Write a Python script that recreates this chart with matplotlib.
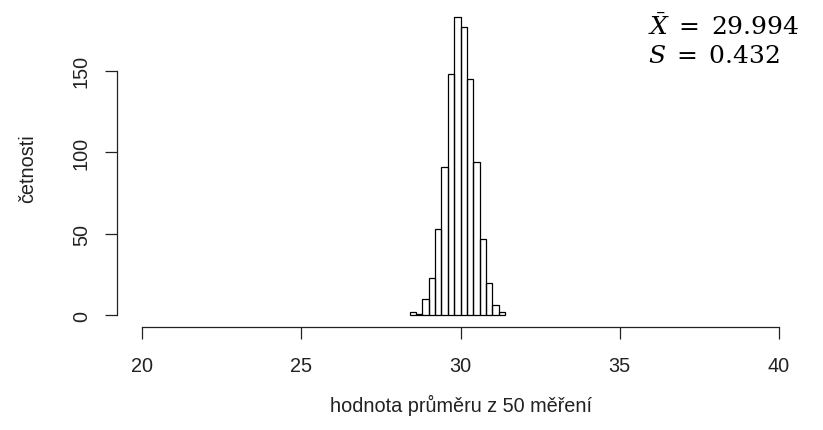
import numpy as np
import matplotlib.pyplot as plt

# histogram of sample means (bin edges 28.4 .. 31.4, width 0.2)
bin_edges = [28.4, 28.6, 28.8, 29.0, 29.2, 29.4, 29.6, 29.8, 30.0,
             30.2, 30.4, 30.6, 30.8, 31.0, 31.2, 31.4]
counts = [2, 1, 10, 23, 53, 91, 148, 183, 177, 145, 94, 47, 20, 6, 2]

x_ticks = [20, 25, 30, 35, 40]
y_ticks = [0, 50, 100, 150]

mean_text = r'$\bar{X}\;=\;29.994$'
sd_text = r'$S\;=\;0.432$'

plt.rcParams['font.family'] = ['Liberation Sans', 'DejaVu Sans']
plt.rcParams['mathtext.fontset'] = 'dejavuserif'

W, H = 823, 431
fig = plt.figure(figsize=(W / 100, H / 100), dpi=100)
ax = fig.add_axes([116.5 / W, 1 - 328.2 / H, (804.5 - 116.5) / W, (328.2 - 5.9) / H])

edges = np.array(bin_edges)
ax.bar(edges[:-1], counts, width=np.diff(edges), align='edge',
       fill=False, edgecolor='black', linewidth=0.9)

ax.set_xlim(19.2, 40.8)
ax.set_ylim(-7.32, 190.3)

# R-style detached axes
ax.spines['top'].set_visible(False)
ax.spines['right'].set_visible(False)
ax.spines['left'].set_bounds(0, 150)
ax.spines['bottom'].set_bounds(20, 40)
for s in ('left', 'bottom'):
    ax.spines[s].set_linewidth(0.9)
    ax.spines[s].set_color('#222222')

ax.set_xticks(x_ticks)
ax.set_yticks(y_ticks)
ax.set_xticklabels([str(v) for v in x_ticks])
ax.set_yticklabels([str(v) for v in y_ticks], rotation=90, va='center')
ax.tick_params(axis='both', length=8.5, width=0.9, color='#222222',
               labelsize=14.3, labelcolor='#222222')
ax.tick_params(axis='x', pad=12)
ax.tick_params(axis='y', pad=10)

fig.text(28 / W, 1 - 169 / H, 'četnosti', rotation=90, ha='center',
         va='center', fontsize=14.3, color='#222222')
fig.text(460.5 / W, 1 - 412 / H, 'hodnota průměru z 50 měření', ha='center',
         va='baseline', fontsize=14.3, color='#222222')

fig.text(648 / W, 1 - 35 / H, mean_text, ha='left', va='baseline',
         fontsize=18, color='black')
fig.text(648 / W, 1 - 63 / H, sd_text, ha='left', va='baseline',
         fontsize=18, color='black')

fig.savefig('out.png', dpi=100)
